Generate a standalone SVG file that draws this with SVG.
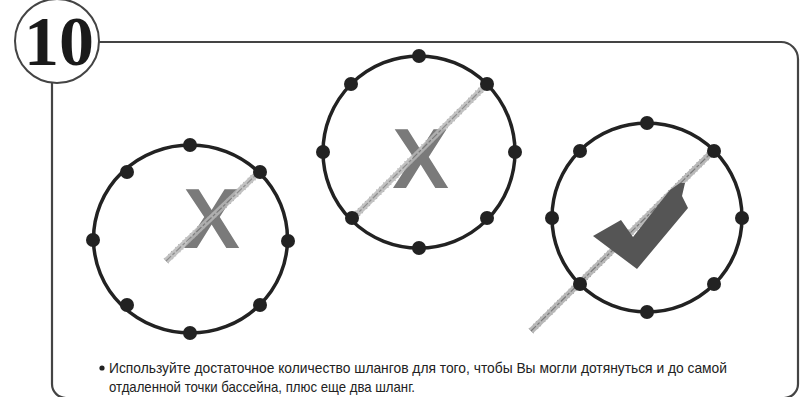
<svg xmlns="http://www.w3.org/2000/svg" width="800" height="397" viewBox="0 0 800 397">
<style>
.ring{fill:none;stroke:#222;stroke-width:3.5}
.dot{fill:#222}
.hose{stroke:#b8b8b8;stroke-width:6;stroke-linecap:butt;fill:none}
.hoseline{stroke:#7a7a7a;stroke-width:1.2;stroke-dasharray:7 2 3 2;fill:none}
.hoseedge{stroke:#8c8c8c;stroke-width:7;stroke-dasharray:1 5 1 3;fill:none}
.x{font-family:"Liberation Sans",Arial,sans-serif;font-weight:bold;font-size:85px;fill:#7a7a7a;text-anchor:middle}
.frame{fill:none;stroke:#444;stroke-width:2.2}
.body{font-family:"Liberation Sans",Arial,sans-serif;font-size:15px;fill:#222}
</style>
<rect width="800" height="397" fill="#fff"/>
<g id="frame">
<path class="frame" d="M99 42 H781 A17 17 0 0 1 798 59 V384 A14 14 0 0 1 784 398"/>
<path class="frame" d="M52 83 V384 A14 14 0 0 0 66 398"/>
</g>
<g id="badge">
<circle cx="57" cy="41" r="42" fill="#fff" stroke="#444" stroke-width="2"/>
<text x="59" y="65" font-family="Liberation Serif,'Times New Roman',serif" font-weight="bold" font-size="70" fill="#1a1a1a" text-anchor="middle">10</text>
</g>
<g id="circle1">
<text class="x" x="211.5" y="248">X</text>
<g opacity="0.85">
<line class="hoseedge" x1="166" y1="261" x2="258" y2="173"/>
<line class="hose" x1="166" y1="261" x2="258" y2="173"/>
<line class="hoseline" x1="166" y1="261" x2="258" y2="173"/>
</g>
<ellipse class="ring" cx="190.5" cy="239" rx="97" ry="94"/>
<circle class="dot" cx="190" cy="145" r="7"/>
<circle class="dot" cx="260" cy="172" r="7"/>
<circle class="dot" cx="288" cy="241" r="7"/>
<circle class="dot" cx="260" cy="305" r="7"/>
<circle class="dot" cx="190" cy="333" r="7"/>
<circle class="dot" cx="127" cy="305" r="7"/>
<circle class="dot" cx="93" cy="240" r="7"/>
<circle class="dot" cx="127" cy="172" r="7"/>
</g>
<g id="circle2">
<text class="x" x="420.5" y="188">X</text>
<g opacity="0.85">
<line class="hoseedge" x1="353" y1="218" x2="485" y2="86"/>
<line class="hose" x1="353" y1="218" x2="485" y2="86"/>
<line class="hoseline" x1="353" y1="218" x2="485" y2="86"/>
</g>
<circle class="ring" cx="419" cy="152" r="96"/>
<circle class="dot" cx="419" cy="56" r="7"/>
<circle class="dot" cx="487" cy="84" r="7"/>
<circle class="dot" cx="515" cy="152" r="7"/>
<circle class="dot" cx="487" cy="218" r="7"/>
<circle class="dot" cx="419" cy="248" r="7"/>
<circle class="dot" cx="352" cy="218" r="7"/>
<circle class="dot" cx="323" cy="152" r="7"/>
<circle class="dot" cx="351" cy="84" r="7"/>
</g>
<g id="circle3">
<line class="hoseedge" x1="531" y1="331" x2="711" y2="153"/>
<line class="hose" x1="531" y1="331" x2="711" y2="153"/>
<line class="hoseline" x1="531" y1="331" x2="711" y2="153"/>
<path d="M593 236 L621 220 L633 237 L670 190 L680 183 L685 183 L682 196 L688 208 L637 269 Z" fill="#555"/>
<ellipse class="ring" cx="647" cy="217.5" rx="95" ry="94.5"/>
<circle class="dot" cx="647" cy="123" r="7"/>
<circle class="dot" cx="714" cy="151" r="7"/>
<circle class="dot" cx="742" cy="218" r="7"/>
<circle class="dot" cx="714" cy="284" r="7"/>
<circle class="dot" cx="647" cy="312" r="7"/>
<circle class="dot" cx="580" cy="284" r="7"/>
<circle class="dot" cx="552" cy="218" r="7"/>
<circle class="dot" cx="580" cy="151" r="7"/>
</g>
<g id="note">
<circle cx="102" cy="368" r="2.6" fill="#222"/>
<text class="body" x="109" y="373" textLength="618" lengthAdjust="spacingAndGlyphs">Используйте достаточное количество шлангов для того, чтобы Вы могли дотянуться и до самой</text>
<text class="body" x="109" y="392" textLength="306" lengthAdjust="spacingAndGlyphs">отдаленной точки бассейна, плюс еще два шланг.</text>
</g>
</svg>
